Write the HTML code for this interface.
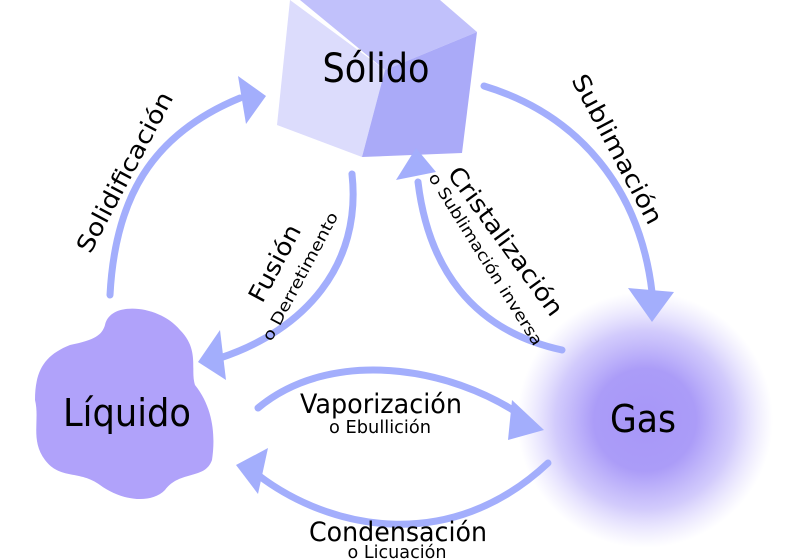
<!DOCTYPE html>
<html><head><meta charset="utf-8"><style>html,body{margin:0;padding:0;background:#fff}svg{display:block}</style></head>
<body>
<svg width="800" height="560" viewBox="0 0 800 560" xmlns="http://www.w3.org/2000/svg" font-family="'DejaVu Sans','Liberation Sans',sans-serif">
<defs>
<radialGradient id="g" cx="0.5" cy="0.5" r="0.5">
<stop offset="0" stop-color="#a797f8"/>
<stop offset="0.4" stop-color="#ab9cf8"/>
<stop offset="0.7" stop-color="#b4a8fa" stop-opacity="0.6"/>
<stop offset="1" stop-color="#c8c0fc" stop-opacity="0"/>
</radialGradient>
</defs>
<!-- cube -->
<polygon points="290,0 277,125 362,157 385,70" fill="#dcdcfc"/>
<polygon points="300,0 440,0 477,32 385,70" fill="#c1c1fb"/>
<polygon points="385,70 477,32 462,153 362,157" fill="#aaaaf8"/>
<!-- liquid blob -->
<path d="M105,325 C110,300 160,305 180,330 C200,350 190,370 195,385 C215,410 215,440 212,460 C205,480 180,470 165,490 C150,505 120,500 100,485 C80,470 60,480 45,460 C30,440 40,420 35,400 C35,370 45,355 70,345 C95,340 102,335 105,325 Z" fill="#b0a2fa"/>
<!-- gas -->
<circle cx="645" cy="420" r="128" fill="url(#g)"/>
<g fill="none" stroke="#a3aefc" stroke-width="7" stroke-linecap="round">
<path d="M110,295 C115,200 150,135 240,98"/>
<path d="M484,86 C580,115 640,190 652,292"/>
<path d="M352,174 C362,265 305,330 220,358"/>
<path d="M562,350 C470,330 428,265 418,182"/>
<path d="M258,408 C330,348 450,365 525,418"/>
<path d="M548,463 C450,555 330,530 258,475"/>
</g>
<g fill="#a3aefc">
<polygon points="238,76 266,96 246,124"/>
<polygon points="628,288 674,292 652,322"/>
<polygon points="220,330 198,362 226,380"/>
<polygon points="396,180 416,148 436,172"/>
<polygon points="512,400 544,430 508,440"/>
<polygon points="268,448 236,465 258,494"/>
</g>
<g fill="#000" text-anchor="middle" lengthAdjust="spacingAndGlyphs">
<text x="376" y="82" font-size="40" textLength="107" lengthAdjust="spacingAndGlyphs">Sólido</text>
<text x="127" y="426" font-size="38" textLength="128" lengthAdjust="spacingAndGlyphs">Líquido</text>
<text x="643" y="432" font-size="38" textLength="66" lengthAdjust="spacingAndGlyphs">Gas</text>
<text x="381" y="413" font-size="27" textLength="162" lengthAdjust="spacingAndGlyphs">Vaporización</text>
<text x="380" y="433" font-size="18" textLength="102" lengthAdjust="spacingAndGlyphs">o Ebullición</text>
<text x="398" y="541" font-size="27" textLength="178" lengthAdjust="spacingAndGlyphs">Condensación</text>
<text x="397" y="558" font-size="18" textLength="99" lengthAdjust="spacingAndGlyphs">o Licuación</text>
<text transform="translate(132,176) rotate(-62)" font-size="24" textLength="178" lengthAdjust="spacingAndGlyphs">Solidificación</text>
<text transform="translate(610,153) rotate(62)" font-size="24" textLength="166" lengthAdjust="spacingAndGlyphs">Sublimación</text>
<text transform="translate(282,267) rotate(-62)" font-size="24" textLength="84" lengthAdjust="spacingAndGlyphs">Fusión</text>
<text transform="translate(305,279) rotate(-62)" font-size="16" textLength="143" lengthAdjust="spacingAndGlyphs">o Derretimento</text>
<text transform="translate(499,246) rotate(54)" font-size="24" textLength="178" lengthAdjust="spacingAndGlyphs">Cristalización</text>
<text transform="translate(481,262) rotate(58)" font-size="16" textLength="200" lengthAdjust="spacingAndGlyphs">o Sublimación inversa</text>
</g>
</svg>
</body></html>
